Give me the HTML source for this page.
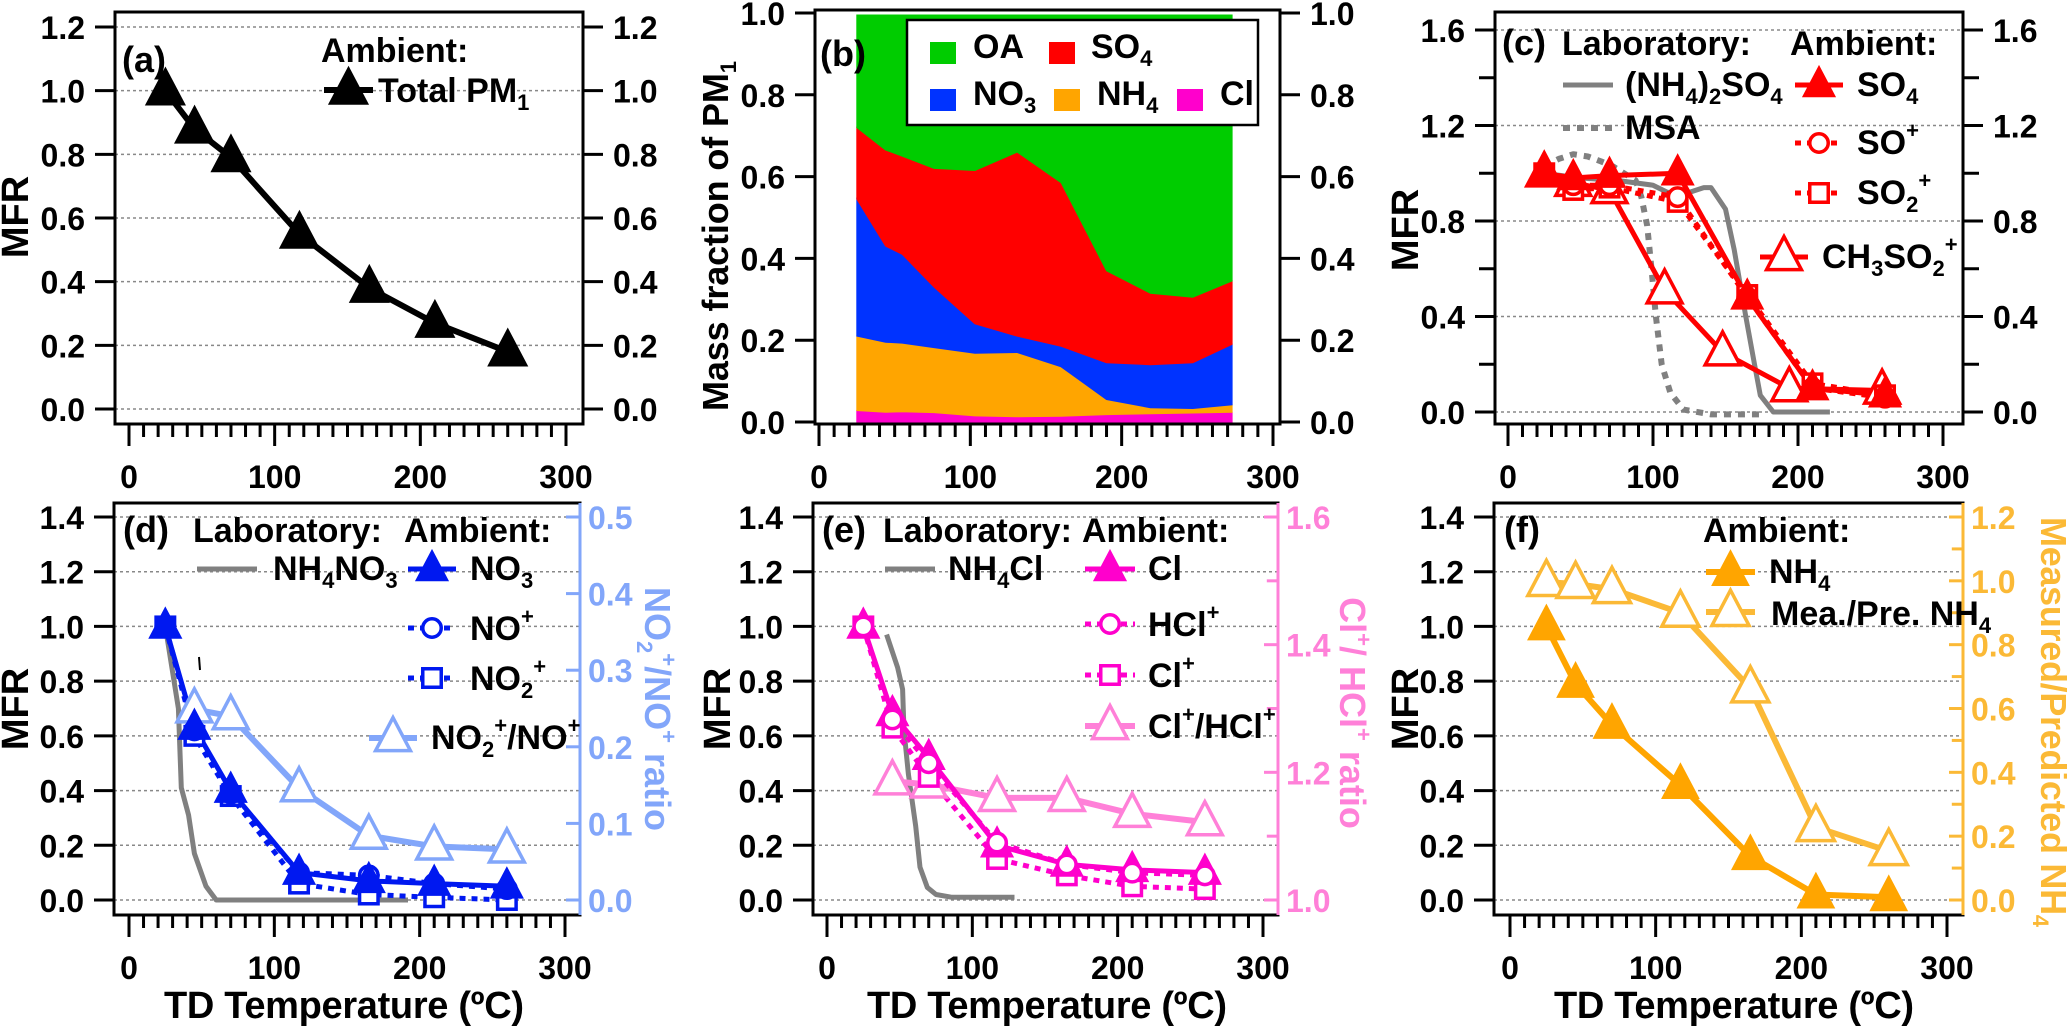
<!DOCTYPE html>
<html><head><meta charset="utf-8">
<style>
html,body{margin:0;padding:0;background:#fff;}
svg{display:block;font-family:"Liberation Sans",Arial,sans-serif;font-weight:bold;}
</style></head>
<body>
<svg id="fig" xmlns="http://www.w3.org/2000/svg" width="2067" height="1027" viewBox="0 0 2067 1027">
<rect x="0" y="0" width="2067" height="1027" fill="#fff"/>
<g id="layer"></g>
<g id="labels" font-size="34">
  <text x="122" y="72" font-size="36">(a)</text>
  <text x="321" y="62">Ambient:</text>
  <text x="378" y="102">Total PM<tspan font-size="22" dy="8">1</tspan></text>
  <text transform="translate(28,217) rotate(-90)" text-anchor="middle" font-size="38">MFR</text>
  <text x="820" y="66" font-size="36">(b)</text>
  <text transform="translate(728,236) rotate(-90)" text-anchor="middle" font-size="36" textLength="350">Mass fraction of PM<tspan font-size="22" dy="8">1</tspan></text>
  <text x="973" y="58">OA</text>
  <text x="1091" y="58">SO<tspan font-size="22" dy="8">4</tspan></text>
  <text x="973" y="105">NO<tspan font-size="22" dy="8">3</tspan></text>
  <text x="1097" y="105">NH<tspan font-size="22" dy="8">4</tspan></text>
  <text x="1220" y="105">Cl</text>
  <text x="1502" y="55" font-size="36">(c)</text>
  <text x="1562" y="55">Laboratory:</text>
  <text x="1790" y="55">Ambient:</text>
  <text x="1625" y="96">(NH<tspan font-size="22" dy="8">4</tspan><tspan dy="-8">)</tspan><tspan font-size="22" dy="8">2</tspan><tspan dy="-8">SO</tspan><tspan font-size="22" dy="8">4</tspan></text>
  <text x="1625" y="139">MSA</text>
  <text x="1857" y="96">SO<tspan font-size="22" dy="8">4</tspan></text>
  <text x="1857" y="154">SO<tspan font-size="22" dy="-16">+</tspan></text>
  <text x="1857" y="204">SO<tspan font-size="22" dy="8">2</tspan><tspan font-size="22" dy="-24">+</tspan></text>
  <text x="1822" y="268">CH<tspan font-size="22" dy="8">3</tspan><tspan dy="-8">SO</tspan><tspan font-size="22" dy="8">2</tspan><tspan font-size="22" dy="-24">+</tspan></text>
  <text transform="translate(1418,230) rotate(-90)" text-anchor="middle" font-size="38">MFR</text>
  <text x="123" y="542" font-size="36">(d)</text>
  <text x="193" y="542">Laboratory:</text>
  <text x="404" y="542">Ambient:</text>
  <text x="273" y="580">NH<tspan font-size="22" dy="8">4</tspan><tspan dy="-8">NO</tspan><tspan font-size="22" dy="8">3</tspan></text>
  <text x="470" y="580">NO<tspan font-size="22" dy="8">3</tspan></text>
  <text x="470" y="640">NO<tspan font-size="22" dy="-16">+</tspan></text>
  <text x="470" y="690">NO<tspan font-size="22" dy="8">2</tspan><tspan font-size="22" dy="-24">+</tspan></text>
  <text x="431" y="749">NO<tspan font-size="22" dy="8">2</tspan><tspan font-size="22" dy="-24">+</tspan><tspan dy="16">/NO</tspan><tspan font-size="22" dy="-16">+</tspan></text>
  <text transform="translate(28,709) rotate(-90)" text-anchor="middle" font-size="38">MFR</text>
  <text transform="translate(645,709) rotate(90)" text-anchor="middle" font-size="36" fill="#82a6fa">NO<tspan font-size="22" dy="8">2</tspan><tspan font-size="22" dy="-24">+</tspan><tspan dy="16">/NO</tspan><tspan font-size="22" dy="-16">+</tspan><tspan dy="16"> ratio</tspan></text>
  <text x="344" y="1018" text-anchor="middle" font-size="38" textLength="360">TD Temperature (ºC)</text>
  <text x="822" y="542" font-size="36">(e)</text>
  <text x="883" y="542">Laboratory:</text>
  <text x="1082" y="542">Ambient:</text>
  <text x="948" y="580">NH<tspan font-size="22" dy="8">4</tspan><tspan dy="-8">Cl</tspan></text>
  <text x="1148" y="580">Cl</text>
  <text x="1148" y="636">HCl<tspan font-size="22" dy="-16">+</tspan></text>
  <text x="1148" y="687">Cl<tspan font-size="22" dy="-16">+</tspan></text>
  <text x="1148" y="738">Cl<tspan font-size="22" dy="-16">+</tspan><tspan dy="16">/HCl</tspan><tspan font-size="22" dy="-16">+</tspan></text>
  <text transform="translate(730,709) rotate(-90)" text-anchor="middle" font-size="38">MFR</text>
  <text transform="translate(1340,713) rotate(90)" text-anchor="middle" font-size="36" fill="#ff80d8">Cl<tspan font-size="22" dy="-16">+</tspan><tspan dy="16">/ HCl</tspan><tspan font-size="22" dy="-16">+</tspan><tspan dy="16"> ratio</tspan></text>
  <text x="1047" y="1018" text-anchor="middle" font-size="38" textLength="360">TD Temperature (ºC)</text>
  <text x="1504" y="542" font-size="36">(f)</text>
  <text x="1703" y="542">Ambient:</text>
  <text x="1769" y="583">NH<tspan font-size="22" dy="8">4</tspan></text>
  <text x="1771" y="625">Mea./Pre. NH<tspan font-size="22" dy="8">4</tspan></text>
  <text transform="translate(1418,709) rotate(-90)" text-anchor="middle" font-size="38">MFR</text>
  <text transform="translate(2041,722) rotate(90)" text-anchor="middle" font-size="36" fill="#fbb936" textLength="410">Measured/Predicted NH<tspan font-size="22" dy="8">4</tspan></text>
  <text x="1734" y="1018" text-anchor="middle" font-size="38" textLength="360">TD Temperature (ºC)</text>
</g>
</svg>
<script>
const tAmb = [25, 45, 70, 117, 165, 210, 260];
const totalPM1 = [1.0, 0.88, 0.79, 0.55, 0.38, 0.27, 0.18];

const tB = [25, 44, 55, 76, 103, 131, 160, 190, 219, 247, 273];
const fracCl  = [0.028,0.024,0.025,0.023,0.015,0.013,0.014,0.018,0.020,0.022,0.024];
const fracNH4 = [0.182,0.171,0.168,0.159,0.153,0.157,0.121,0.037,0.015,0.011,0.018];
const fracNO3 = [0.335,0.235,0.217,0.148,0.072,0.040,0.050,0.090,0.105,0.112,0.148];
const fracSO4 = [0.175,0.235,0.240,0.290,0.375,0.450,0.400,0.225,0.175,0.160,0.155];
const fracOA  = [0.275,0.330,0.345,0.375,0.380,0.335,0.410,0.625,0.680,0.690,0.650];

const so4C    = [1.0, 0.98, 0.99, 1.0, 0.48, 0.10, 0.07];
const soPlus  = [1.0, 0.95, 0.95, 0.90, 0.48, 0.10, 0.06];
const so2Plus = [1.0, 0.93, 0.94, 0.88, 0.49, 0.12, 0.07];
const tCH3 = [25, 45, 70, 108, 148, 194, 258];
const ch3so2Plus = [1.0, 0.96, 0.93, 0.51, 0.25, 0.10, 0.09];
const tAS = [25, 50, 75, 100, 110, 125, 135, 140, 150, 156, 164, 170, 174, 183, 222];
const amSulf = [1.0, 0.98, 0.97, 0.95, 0.92, 0.92, 0.94, 0.94, 0.85, 0.68, 0.40, 0.20, 0.07, 0.0, 0.0];
const tMSA = [25, 35, 45, 55, 64, 72, 80, 88, 92, 96, 99, 102, 106, 112, 121, 140, 177];
const msa = [1.03, 1.06, 1.08, 1.07, 1.05, 1.03, 1.0, 0.97, 0.90, 0.78, 0.60, 0.40, 0.20, 0.08, 0.01, -0.01, -0.01];

const tAN = [25, 28, 34, 36, 41, 45, 53, 60, 192];
const amNitrate = [1.0, 0.90, 0.70, 0.41, 0.31, 0.17, 0.05, 0.0, 0.0];
const no3D    = [1.0, 0.63, 0.40, 0.10, 0.07, 0.06, 0.05];
const noPlus  = [1.0, 0.62, 0.39, 0.10, 0.09, 0.06, 0.04];
const no2Plus = [1.0, 0.60, 0.38, 0.06, 0.02, 0.01, 0.0];
const tRatio = [45, 70, 117, 165, 210, 260];
const ratioNO = [0.249, 0.240, 0.146, 0.084, 0.070, 0.066];

const tACl = [41, 48.6, 52, 53, 56, 61, 64, 69, 75, 86, 129];
const amChloride = [0.97, 0.85, 0.77, 0.62, 0.46, 0.27, 0.12, 0.046, 0.02, 0.01, 0.01];
const clE     = [1.0, 0.68, 0.52, 0.20, 0.13, 0.11, 0.10];
const hclPlus = [1.0, 0.66, 0.50, 0.21, 0.13, 0.10, 0.09];
const clPlus  = [1.0, 0.63, 0.45, 0.15, 0.09, 0.05, 0.04];
const ratioCl = [1.186, 1.181, 1.160, 1.160, 1.135, 1.122];

const nh4F   = [1.0, 0.79, 0.64, 0.42, 0.16, 0.02, 0.01];
const meaPre = [0.996, 0.99, 0.974, 0.90, 0.663, 0.228, 0.153];

const yTicksA = ["0.0","0.2","0.4","0.6","0.8","1.0","1.2"];
const yTicksB = ["0.0","0.2","0.4","0.6","0.8","1.0"];
const yTicksC = ["0.0","0.4","0.8","1.2","1.6"];
const yTicksBottom = ["0.0","0.2","0.4","0.6","0.8","1.0","1.2","1.4"];
const yTicksDR = ["0.0","0.1","0.2","0.3","0.4","0.5"];
const yTicksER = ["1.0","1.2","1.4","1.6"];
const yTicksFR = ["0.0","0.2","0.4","0.6","0.8","1.0","1.2"];
const xTicks = ["0","100","200","300"];

const NS = "http://www.w3.org/2000/svg";
const root = document.getElementById('layer');
function mk(tag, attrs, name, parent) {
  const el = document.createElementNS(NS, tag);
  for (const k in attrs) el.setAttribute(k, attrs[k]);
  
  
  (parent || root).appendChild(el);
  return el;
}
function lin(d0, d1, r0, r1) { return v => r0 + (v - d0) * (r1 - r0) / (d1 - d0); }

function frame(p, name) {
  mk('rect', {x:p.l, y:p.t, width:p.r-p.l, height:p.b-p.t, fill:'none', stroke:'#000', 'stroke-width':3}, name + '-frame');
}
function grid(p, vals, Y, name) {
  vals.forEach(v => {
    mk('line', {x1:p.l, x2:p.r, y1:Y(v), y2:Y(v), stroke:'#888', 'stroke-width':1.5, 'stroke-dasharray':'3 3'}, name + '-gridline');
  });
}
function xAxis(p, X, labelY, name) {
  for (let t = 0; t <= 300; t += 10) {
    const major = (t % 100 === 0);
    mk('line', {x1:X(t), x2:X(t), y1:p.b, y2:p.b + (major ? 22 : 13), stroke:'#000', 'stroke-width':3}, name + '-x-tick');
  }
  xTicks.forEach(s => {
    const tx = mk('text', {x:X(+s), y:labelY, 'text-anchor':'middle', 'font-size':32}, name + '-x-tick-label');
    tx.textContent = s;
  });
}
function yAxis(p, labels, Y, side, color, inward, minorStep, name) {
  const ax = side === 'left' ? p.l : p.r;
  const dir = side === 'left' ? -1 : 1;
  const tl = inward ? -dir * 14 : dir * 20;
  if (color !== '#000') {
    mk('line', {x1:ax, x2:ax, y1:p.t, y2:p.b, stroke:color, 'stroke-width':3}, name + '-right-axis-line');
  }
  labels.forEach(s => {
    const v = +s;
    mk('line', {x1:ax, x2:ax + tl, y1:Y(v), y2:Y(v), stroke:color, 'stroke-width':3}, name + '-y-tick');
    const lx = side === 'left' ? ax - 30 : ax + (inward ? 8 : 30);
    const tx = mk('text', {x:lx, y:Y(v) + 12, 'text-anchor': side === 'left' ? 'end' : 'start', 'font-size':32, fill:color}, name + '-y-tick-label');
    tx.textContent = s;
  });
  if (minorStep) {
    const v0 = +labels[0], v1 = +labels[labels.length - 1];
    for (let v = v0 + minorStep; v < v1; v += 2 * minorStep) {
      mk('line', {x1:ax, x2:ax + tl * 0.8, y1:Y(v), y2:Y(v), stroke:color, 'stroke-width':3}, name + '-y-minor-tick');
    }
  }
}
function pathD(xs, ys, X, Y) { return xs.map((t, i) => (i ? 'L' : 'M') + X(t).toFixed(1) + ',' + Y(ys[i]).toFixed(1)).join(' '); }
function line(xs, ys, X, Y, color, w, dash, name) {
  const a = {d:pathD(xs, ys, X, Y), fill:'none', stroke:color, 'stroke-width':w, 'stroke-linejoin':'round'};
  if (dash) a['stroke-dasharray'] = dash;
  mk('path', a, name);
}
function tri(cx, cy, s, color, filled, name) {
  const pts = [[cx, cy - s*0.68], [cx - s*0.58, cy + s*0.42], [cx + s*0.58, cy + s*0.42]].map(q => q.join(',')).join(' ');
  mk('polygon', {points:pts, fill: filled ? color : '#fff', stroke:color, 'stroke-width': filled ? 1 : 3.5, 'stroke-linejoin':'miter'}, name);
}
function markers(xs, ys, X, Y, kind, color, s, name) {
  xs.forEach((t, i) => {
    const cx = X(t), cy = Y(ys[i]);
    if (kind === 'tri') tri(cx, cy, s, color, true, name);
    else if (kind === 'otri') tri(cx, cy, s, color, false, name);
    else if (kind === 'circ') mk('circle', {cx:cx, cy:cy, r:s*0.33, fill:'#fff', stroke:color, 'stroke-width':3.5}, name);
    else if (kind === 'sq') mk('rect', {x:cx - s*0.33, y:cy - s*0.33, width:s*0.66, height:s*0.66, fill:'#fff', stroke:color, 'stroke-width':3.5}, name);
  });
}
function legLine(x1, x2, y, color, w, dash, kind, s, name) {
  const a = {x1:x1, x2:x2, y1:y, y2:y, stroke:color, 'stroke-width':w};
  if (dash) a['stroke-dasharray'] = dash;
  mk('line', a, name + '-line');
  const cx = (x1 + x2) / 2;
  if (kind === 'tri') tri(cx, y, s, color, true, name + '-marker');
  else if (kind === 'otri') tri(cx, y, s, color, false, name + '-marker');
  else if (kind === 'circ') mk('circle', {cx:cx, cy:y, r:s*0.33, fill:'#fff', stroke:color, 'stroke-width':3.5}, name + '-marker');
  else if (kind === 'sq') mk('rect', {x:cx - s*0.33, y:y - s*0.33, width:s*0.66, height:s*0.66, fill:'#fff', stroke:color, 'stroke-width':3.5}, name + '-marker');
}

const RED = '#ff0000', BLUE = '#0018f0', LBLUE = '#82a6fa', MAG = '#ff00cc', LPINK = '#ff80d8', ORG = '#ffa500', LORG = '#fbb936', GRAY = '#808080';

(function(){
  const p = {l:115, r:583, t:12, b:424};
  const X = lin(0, 300, 129, 566), Y = lin(0, 1.2, 409, 27);
  grid(p, yTicksA.map(Number), Y, 'panel-a');
  frame(p, 'panel-a');
  xAxis(p, X, 488, 'panel-a');
  yAxis(p, yTicksA, Y, 'left', '#000', false, 0, 'panel-a');
  yAxis(p, yTicksA, Y, 'right', '#000', false, 0, 'panel-a-right');
  line(tAmb, totalPM1, X, Y, '#000', 6, null, 'total-pm1-line');
  markers(tAmb, totalPM1, X, Y, 'tri', '#000', 34, 'total-pm1-marker');
  legLine(324, 373, 90, '#000', 6, null, 'tri', 34, 'legend-total-pm1');
})();

(function(){
  const p = {l:815, r:1280, t:10, b:424};
  const X = lin(0, 300, 819, 1273), Y = lin(0, 1, 422, 13);
  const layers = [[fracCl, MAG, 'area-cl'], [fracNH4, ORG, 'area-nh4'], [fracNO3, '#0033ff', 'area-no3'], [fracSO4, RED, 'area-so4'], [fracOA, '#00cc00', 'area-oa']];
  let base = tB.map(() => 0);
  layers.forEach(([arr, col, nm]) => {
    const top = base.map((b, i) => b + arr[i]);
    let d = tB.map((t, i) => (i ? 'L' : 'M') + X(t).toFixed(1) + ',' + Y(top[i]).toFixed(1)).join(' ');
    for (let i = tB.length - 1; i >= 0; i--) d += ' L' + X(tB[i]).toFixed(1) + ',' + Y(base[i]).toFixed(1);
    mk('path', {d:d + ' Z', fill:col, stroke:col, 'stroke-width':1}, nm);
    base = top;
  });
  frame(p, 'panel-b');
  xAxis(p, X, 488, 'panel-b');
  yAxis(p, yTicksB, Y, 'left', '#000', false, 0, 'panel-b');
  yAxis(p, yTicksB, Y, 'right', '#000', false, 0, 'panel-b-right');
  mk('rect', {x:907, y:20, width:351, height:105, fill:'#fff', stroke:'#000', 'stroke-width':2.5}, 'panel-b-legend-box');
  mk('rect', {x:930, y:42, width:26, height:22, fill:'#00cc00'}, 'legend-oa-swatch');
  mk('rect', {x:1049, y:42, width:26, height:22, fill:RED}, 'legend-so4-swatch');
  mk('rect', {x:930, y:89, width:26, height:22, fill:'#0033ff'}, 'legend-no3-swatch');
  mk('rect', {x:1054, y:89, width:26, height:22, fill:ORG}, 'legend-nh4-swatch');
  mk('rect', {x:1177, y:89, width:26, height:22, fill:MAG}, 'legend-cl-swatch');
})();

(function(){
  const p = {l:1495, r:1963, t:12, b:424};
  const X = lin(0, 300, 1508, 1943), Y = lin(0, 1.6, 412, 30);
  grid(p, yTicksC.map(Number), Y, 'panel-c');
  frame(p, 'panel-c');
  xAxis(p, X, 488, 'panel-c');
  yAxis(p, yTicksC, Y, 'left', '#000', false, 0.2, 'panel-c');
  yAxis(p, yTicksC, Y, 'right', '#000', false, 0.2, 'panel-c-right');
  line(tMSA, msa, X, Y, GRAY, 6, '7 7', 'msa-line');
  line(tAS, amSulf, X, Y, GRAY, 5, null, 'ammonium-sulfate-line');
  line(tCH3, ch3so2Plus, X, Y, RED, 5, null, 'ch3so2-plus-line');
  line(tAmb, so2Plus, X, Y, RED, 5, '6 6', 'so2-plus-line');
  line(tAmb, soPlus, X, Y, RED, 5, '6 6', 'so-plus-line');
  line(tAmb, so4C, X, Y, RED, 5, null, 'so4-line');
  markers(tCH3, ch3so2Plus, X, Y, 'otri', RED, 30, 'ch3so2-plus-marker');
  markers(tAmb, so2Plus, X, Y, 'sq', RED, 28, 'so2-plus-marker');
  markers(tAmb, soPlus, X, Y, 'circ', RED, 28, 'so-plus-marker');
  markers(tAmb, so4C, X, Y, 'tri', RED, 28, 'so4-marker');
  legLine(1563, 1613, 85, GRAY, 5, null, null, 0, 'legend-ammonium-sulfate');
  legLine(1563, 1613, 128, GRAY, 6, '7 7', null, 0, 'legend-msa');
  legLine(1795, 1843, 85, RED, 5, null, 'tri', 28, 'legend-so4-c');
  legLine(1795, 1843, 143, RED, 5, '6 6', 'circ', 28, 'legend-so-plus');
  legLine(1795, 1843, 193, RED, 5, '6 6', 'sq', 28, 'legend-so2-plus');
  legLine(1760, 1808, 257, RED, 5, null, 'otri', 30, 'legend-ch3so2-plus');
})();

(function(){
  const p = {l:114, r:580, t:503, b:915};
  const X = lin(0, 300, 129, 565), Y = lin(0, 1.4, 900, 517), YR = lin(0, 0.5, 900, 517);
  grid(p, yTicksBottom.map(Number), Y, 'panel-d');
  frame(p, 'panel-d');
  xAxis(p, X, 979, 'panel-d');
  yAxis(p, yTicksBottom, Y, 'left', '#000', false, 0, 'panel-d');
  yAxis(p, yTicksDR, YR, 'right', LBLUE, true, 0, 'panel-d-right');
  line(tAN, amNitrate, X, Y, GRAY, 5, null, 'ammonium-nitrate-line');
  line(tRatio, ratioNO, X, YR, LBLUE, 6, null, 'no2-no-ratio-line');
  line(tAmb, no2Plus, X, Y, BLUE, 5, '6 6', 'no2-plus-line');
  line(tAmb, noPlus, X, Y, BLUE, 5, '6 6', 'no-plus-line');
  line(tAmb, no3D, X, Y, BLUE, 5, null, 'no3-line');
  markers(tRatio, ratioNO, X, YR, 'otri', LBLUE, 30, 'no2-no-ratio-marker');
  markers(tAmb, no2Plus, X, Y, 'sq', BLUE, 28, 'no2-plus-marker');
  markers(tAmb, noPlus, X, Y, 'circ', BLUE, 28, 'no-plus-marker');
  markers(tAmb, no3D, X, Y, 'tri', BLUE, 28, 'no3-marker');
  mk('line', {x1:199, x2:200, y1:657, y2:670, stroke:'#000', 'stroke-width':2}, 'stray-mark');
  legLine(197, 257, 569, GRAY, 5, null, null, 0, 'legend-nh4no3');
  legLine(408, 456, 569, BLUE, 5, null, 'tri', 28, 'legend-no3-d');
  legLine(408, 456, 628, BLUE, 5, '6 6', 'circ', 28, 'legend-no-plus');
  legLine(408, 456, 678, BLUE, 5, '6 6', 'sq', 28, 'legend-no2-plus');
  legLine(369, 417, 738, LBLUE, 6, null, 'otri', 30, 'legend-no2-no-ratio');
})();

(function(){
  const p = {l:813, r:1278, t:503, b:915};
  const X = lin(0, 300, 827, 1263), Y = lin(0, 1.4, 900, 517), YR = lin(1.0, 1.6, 900, 517);
  grid(p, yTicksBottom.map(Number), Y, 'panel-e');
  frame(p, 'panel-e');
  xAxis(p, X, 979, 'panel-e');
  yAxis(p, yTicksBottom, Y, 'left', '#000', false, 0, 'panel-e');
  yAxis(p, yTicksER, YR, 'right', LPINK, true, 0.1, 'panel-e-right');
  line(tACl, amChloride, X, Y, GRAY, 5, null, 'ammonium-chloride-line');
  line(tRatio, ratioCl, X, YR, LPINK, 6, null, 'cl-hcl-ratio-line');
  line(tAmb, clPlus, X, Y, MAG, 5, '6 6', 'cl-plus-line');
  line(tAmb, hclPlus, X, Y, MAG, 5, '6 6', 'hcl-plus-line');
  line(tAmb, clE, X, Y, MAG, 5, null, 'cl-line');
  markers(tRatio, ratioCl, X, YR, 'otri', LPINK, 30, 'cl-hcl-ratio-marker');
  markers(tAmb, clPlus, X, Y, 'sq', MAG, 28, 'cl-plus-marker');
  markers(tAmb, clE, X, Y, 'tri', MAG, 28, 'cl-marker');
  markers(tAmb, hclPlus, X, Y, 'circ', MAG, 28, 'hcl-plus-marker');
  legLine(885, 935, 569, GRAY, 5, null, null, 0, 'legend-nh4cl');
  legLine(1085, 1135, 569, MAG, 5, null, 'tri', 28, 'legend-cl-e');
  legLine(1085, 1135, 624, MAG, 5, '6 6', 'circ', 28, 'legend-hcl-plus');
  legLine(1085, 1135, 675, MAG, 5, '6 6', 'sq', 28, 'legend-cl-plus');
  legLine(1085, 1135, 726, LPINK, 6, null, 'otri', 30, 'legend-cl-hcl-ratio');
})();

(function(){
  const p = {l:1494, r:1963, t:503, b:915};
  const X = lin(0, 300, 1510, 1947), Y = lin(0, 1.4, 900, 517), YR = lin(0, 1.2, 900, 517);
  grid(p, yTicksBottom.map(Number), Y, 'panel-f');
  frame(p, 'panel-f');
  xAxis(p, X, 979, 'panel-f');
  yAxis(p, yTicksBottom, Y, 'left', '#000', false, 0, 'panel-f');
  yAxis(p, yTicksFR, YR, 'right', LORG, true, 0.1, 'panel-f-right');
  line(tAmb, meaPre, X, YR, LORG, 6, null, 'mea-pre-line');
  line(tAmb, nh4F, X, Y, ORG, 6, null, 'nh4-line');
  markers(tAmb, meaPre, X, YR, 'otri', LORG, 32, 'mea-pre-marker');
  markers(tAmb, nh4F, X, Y, 'tri', ORG, 32, 'nh4-marker');
  legLine(1706, 1755, 572, ORG, 6, null, 'tri', 32, 'legend-nh4-f');
  legLine(1706, 1755, 612, LORG, 6, null, 'otri', 32, 'legend-mea-pre');
})();
</script>
</body></html>
